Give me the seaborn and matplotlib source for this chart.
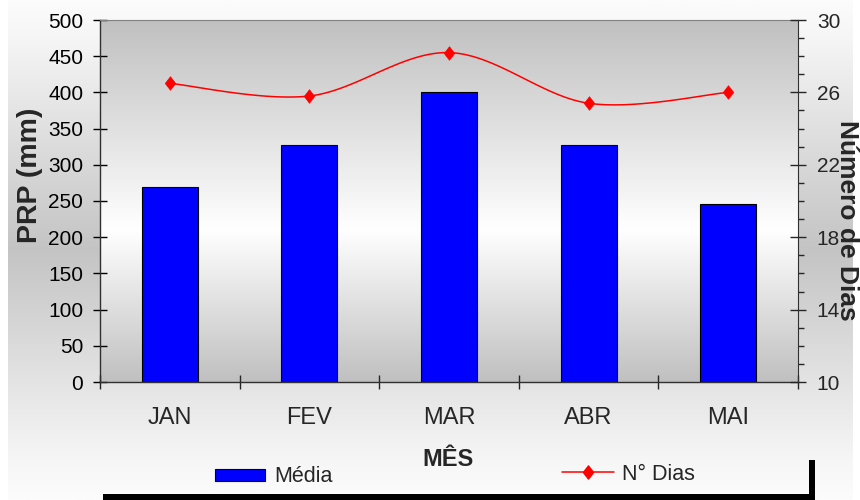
import numpy as np
import matplotlib
matplotlib.use("Agg")
import matplotlib.pyplot as plt
import seaborn as sns
from matplotlib.patches import Patch, Rectangle
from matplotlib.lines import Line2D
from matplotlib.path import Path
from matplotlib.ticker import MultipleLocator, FixedLocator

# Monthly precipitation (mm) and number of rainy days
meses = ["JAN", "FEV", "MAR", "ABR", "MAI"]
media = [270, 328, 400, 328, 246]
dias = [26.5, 25.8, 28.2, 25.4, 26.0]
dias_ticks = [10, 14, 18, 22, 26, 30]

sns.set_style("ticks")
plt.rcParams["font.family"] = ["Liberation Sans", "DejaVu Sans"]

W, H = 860, 500
fig = plt.figure(figsize=(W / 100, H / 100), dpi=100, facecolor="white")


def vgrad(stops, vals, n=400):
    t = np.linspace(0, 1, n)
    g = np.interp(t, stops, vals) / 255.0
    return np.repeat(g[:, None, None], 3, axis=2) * np.ones((n, 2, 3))


# chart-area background: light at top and bottom, gray in the middle
bg = fig.add_axes([8 / W, 0, (853 - 8) / W, 1], zorder=-10)
bg.imshow(vgrad([0, 0.08, 0.5, 0.92, 1], [252, 245, 196, 246, 252]),
          aspect="auto", extent=[0, 1, 0, 1])
bg.axis("off")

# plot area
ax = fig.add_axes([100 / W, 118 / H, 698 / W, 362 / H])
ax.set_facecolor("none")
ax.imshow(vgrad([0, 0.58, 1], [192, 255, 192]), aspect="auto",
          extent=[-0.5, 4.5, 0, 500], zorder=0)

sns.barplot(x=meses, y=media, color="#0000ff", saturation=1, width=0.4,
            edgecolor="black", linewidth=0.8, ax=ax, zorder=2)
ax.set_xlim(-0.5, 4.5)
ax.set_ylim(0, 500)
ax.set_yticks(np.arange(0, 501, 50))
ax.set_xlabel("")
ax.set_ylabel("")

ax.tick_params(axis="y", direction="inout", length=10, width=1,
               labelsize=15, pad=7, colors="black")
ax.tick_params(axis="x", which="major", length=0, labelsize=17, pad=18)
ax.xaxis.set_minor_locator(FixedLocator(np.arange(-0.5, 4.6, 1)))
ax.tick_params(axis="x", which="minor", direction="inout", length=10, width=1)
for s in ("left", "bottom"):
    ax.spines[s].set_color("#303030")
    ax.spines[s].set_linewidth(1.0)
ax.spines["top"].set_color("#808080")
ax.spines["right"].set_visible(False)

# number of days, secondary axis
ax2 = ax.twinx()
ax2.set_ylim(10, 30)
ax2.yaxis.set_major_locator(FixedLocator(dias_ticks))
ax2.yaxis.set_minor_locator(MultipleLocator(1))
ax2.tick_params(axis="y", which="major", direction="inout", length=11,
                width=1, labelsize=15, pad=8)
ax2.tick_params(axis="y", which="minor", direction="out", length=4.5, width=1)
for s in ("left", "top", "bottom"):
    ax2.spines[s].set_visible(False)
ax2.spines["right"].set_color("#303030")


def smooth(xs, ys, n=30):
    # Bezier segments with Catmull-Rom style control points
    p = np.column_stack([xs, ys]).astype(float)
    ext = np.vstack([p[0], p, p[-1]])
    out = []
    t = np.linspace(0, 1, n)[:, None]
    for i in range(len(p) - 1):
        p0, p1, p2, p3 = ext[i], ext[i + 1], ext[i + 2], ext[i + 3]
        b1 = p1 + (p2 - p0) / 6
        b2 = p2 - (p3 - p1) / 6
        seg = ((1 - t) ** 3) * p1 + 3 * ((1 - t) ** 2) * t * b1 \
            + 3 * (1 - t) * t ** 2 * b2 + t ** 3 * p2
        out.append(seg if i == 0 else seg[1:])
    return np.vstack(out)


xpos = np.arange(len(meses))
curve = smooth(xpos, dias)
sns.lineplot(x=curve[:, 0], y=curve[:, 1], sort=False, estimator=None,
             color="#ff0000", linewidth=1.1, ax=ax2, zorder=3)

diamond = Path([(0, 1), (0.77, 0), (0, -1), (-0.77, 0), (0, 1)],
               [Path.MOVETO, Path.LINETO, Path.LINETO, Path.LINETO,
                Path.CLOSEPOLY])
sns.scatterplot(x=xpos, y=dias, marker=diamond, s=95, color="#ff0000",
                edgecolor="#ff0000", linewidth=0.5, ax=ax2, zorder=4)
ax2.set_ylabel("")

# axis titles
fig.text(30 / W, 1 - 175 / H, "PRP (mm)", rotation=90, ha="center",
         va="center", fontsize=20.5, fontweight="bold")
fig.text(847 / W, 1 - 220 / H, "Número de Dias", rotation=270, ha="center",
         va="center", fontsize=19, fontweight="bold")
fig.text(448 / W, 1 - 460 / H, "MÊS", ha="center", va="center",
         fontsize=17, fontweight="bold")

# legend entries
h_bar = Patch(facecolor="#0000ff", edgecolor="black", linewidth=0.8)
h_line = Line2D([], [], color="#ff0000", linewidth=1.1, marker=diamond,
                markersize=9.5, markeredgecolor="#ff0000")
fig.legend(handles=[h_bar], labels=["Média"], loc="center left",
           bbox_to_anchor=(215 / W, 1 - 477 / H), frameon=False, borderpad=0,
           borderaxespad=0, handlelength=2.3, handleheight=0.53,
           handletextpad=0.45, fontsize=15.5)
fig.legend(handles=[h_line], labels=["N° Dias"], loc="center left",
           bbox_to_anchor=(562 / W, 1 - 474 / H), frameon=False, borderpad=0,
           borderaxespad=0, handlelength=2.4, handletextpad=0.4,
           fontsize=15.5)

# legend box shadow
fig.add_artist(Rectangle((103 / W, 0), (815 - 103) / W, 6 / H,
                         transform=fig.transFigure, color="black", lw=0))
fig.add_artist(Rectangle((809 / W, 0), 6 / W, 40 / H,
                         transform=fig.transFigure, color="black", lw=0))

fig.savefig("out.png", dpi=100, facecolor="white")
